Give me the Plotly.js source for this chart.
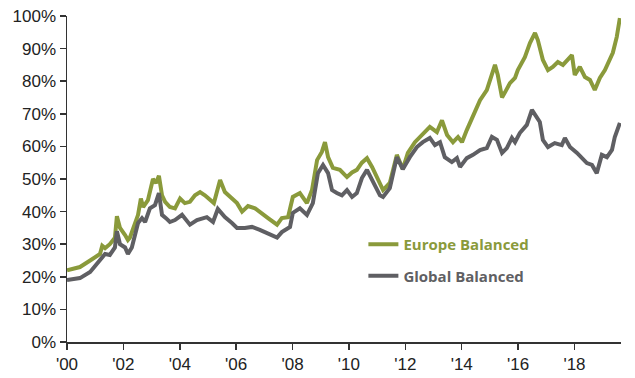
<!DOCTYPE html>
<html>
<head>
<meta charset="utf-8">
<script src="https://cdn.plot.ly/plotly-3.0.1.min.js"></script>
<style>html,body{margin:0;padding:0;background:#fff;}#chart{width:635px;height:378px;}</style>
</head>
<body>
<div id="chart"></div>
<script>
// Europe Balanced (decimal year, cumulative return %)
var europeYears = [2000.0,2000.46,2000.82,2001.17,2001.25,2001.35,2001.52,2001.70,2001.77,2001.88,2002.06,2002.16,2002.23,2002.41,2002.52,2002.62,2002.70,2002.87,2002.94,2003.05,2003.16,2003.26,2003.37,2003.48,2003.65,2003.83,2004.01,2004.18,2004.36,2004.54,2004.72,2004.89,2005.21,2005.43,2005.60,2005.78,2006.03,2006.21,2006.42,2006.67,2006.91,2007.13,2007.45,2007.62,2007.84,2008.01,2008.26,2008.51,2008.69,2008.87,2009.04,2009.15,2009.26,2009.43,2009.68,2009.93,2010.11,2010.28,2010.46,2010.64,2010.82,2010.99,2011.21,2011.45,2011.70,2011.91,2012.09,2012.34,2012.59,2012.87,2013.12,2013.30,2013.48,2013.69,2013.87,2014.01,2014.18,2014.40,2014.65,2014.89,2015.07,2015.18,2015.28,2015.43,2015.53,2015.71,2015.89,2015.99,2016.24,2016.42,2016.60,2016.70,2016.88,2017.06,2017.23,2017.41,2017.59,2017.77,2017.91,2018.01,2018.19,2018.37,2018.55,2018.72,2018.90,2019.08,2019.26,2019.36,2019.50,2019.61];
var europeValues = [22,23,25,27,29.5,28.8,30,32,38.6,35,32.8,31.3,32,36.5,39,44,41.4,43.5,46.6,50,48.8,51,45,43,41.4,41,44,42.6,43,45,46,45,42.6,49.7,46,44.5,42.6,40,41.7,41,39.6,38,36,38,38.3,44.5,45.7,42.6,46.6,55.8,58.3,61.3,56.7,53.4,52.8,50.6,52,52.8,55,56.4,53.7,50.3,46.6,48.8,57.4,53,58,61.3,63.5,66,64.4,68,63.5,61.3,62.9,61.3,65,69,74.2,77.3,82.5,85,81.9,75,76.5,79.4,81,83.4,87.4,91.7,94.8,92.6,86.5,83.4,84.4,85.9,85,86.5,88,81.9,84.4,81.3,80.4,77.3,81,83.4,86.5,88.7,93.6,99.4];

// Global Balanced
var globalYears = [2000.0,2000.46,2000.82,2001.17,2001.35,2001.52,2001.70,2001.77,2001.88,2002.06,2002.16,2002.30,2002.52,2002.66,2002.77,2002.94,2003.12,2003.26,2003.37,2003.51,2003.65,2003.83,2004.08,2004.36,2004.61,2004.96,2005.18,2005.35,2005.60,2005.85,2006.03,2006.31,2006.56,2006.84,2007.13,2007.45,2007.62,2007.91,2008.01,2008.26,2008.51,2008.72,2008.90,2009.08,2009.26,2009.40,2009.57,2009.75,2009.93,2010.11,2010.28,2010.46,2010.64,2010.85,2011.10,2011.21,2011.45,2011.70,2011.91,2012.16,2012.41,2012.62,2012.87,2013.05,2013.23,2013.40,2013.65,2013.83,2013.94,2014.18,2014.40,2014.65,2014.89,2015.07,2015.25,2015.43,2015.60,2015.78,2015.89,2016.06,2016.31,2016.49,2016.67,2016.77,2016.88,2017.06,2017.30,2017.55,2017.66,2017.84,2018.09,2018.26,2018.44,2018.62,2018.79,2018.97,2019.15,2019.33,2019.43,2019.61];
var globalValues = [19,19.6,21.5,25,27,26.7,29,34,30,29,27,29,36.5,38,36.8,41,42,45.7,39,38,36.8,37.4,39,36,37.4,38.3,36.8,40.8,38.3,36.5,35,35,35.3,34.4,33.4,32,33.7,35.3,39.6,41,39,42.6,51.8,54.3,51.8,46.6,45.7,45,46.6,44.5,45.7,50.3,52.8,49,45,44.5,47.2,56.7,53,56.7,59.8,61.3,62.6,60.4,61.3,56.7,55.2,56.4,53.7,56.4,57.4,58.9,59.5,62.9,62,58,59.5,62.6,61.3,64.1,66.6,71.2,69,67.5,62,59.8,61,60.4,62.6,59.8,58,56.4,54.9,54.3,51.8,57.4,56.7,58.9,62.9,67.2];

var xTickVals = [2000,2002,2004,2006,2008,2010,2012,2014,2016,2018];
var xTickText = ["'00","'02","'04","'06","'08","'10","'12","'14","'16","'18"];
var yTickVals = [0,10,20,30,40,50,60,70,80,90,100];
var yTickText = ["0%","10%","20%","30%","40%","50%","60%","70%","80%","90%","100%"];

var seriesNames = ["Europe Balanced","Global Balanced"];
var seriesColors = ["#8a9a3b","#5f5f63"];

var traces = [
  {x: europeYears, y: europeValues, type:'scatter', mode:'lines',
   name:'<b><span style="color:#8a9a3b">'+seriesNames[0]+'</span></b>',
   legendgroup:'a', line:{color:seriesColors[0], width:4}},
  {x: globalYears, y: globalValues, type:'scatter', mode:'lines',
   name:'<b><span style="color:#5f5f63">'+seriesNames[1]+'</span></b>',
   legendgroup:'b', line:{color:seriesColors[1], width:4}}
];

var layout = {
  width:635, height:378,
  margin:{l:67, r:14, t:16, b:36},
  paper_bgcolor:'#fff', plot_bgcolor:'#fff',
  font:{family:'Liberation Sans, Arial, sans-serif', size:16, color:'#222'},
  showlegend:true,
  legend:{x:0.535, y:0.35, xanchor:'left', yanchor:'top', bgcolor:'rgba(0,0,0,0)',
          font:{family:'Open Sans, Noto Sans, sans-serif', size:15}, tracegroupgap:9},
  xaxis:{range:[2000,2019.65], tickvals:xTickVals, ticktext:xTickText,
         showgrid:false, zeroline:false, showline:true, linecolor:'#333', linewidth:1.5,
         ticks:'outside', ticklen:6, tickcolor:'#333', tickwidth:1.5,
         tickfont:{size:17, color:'#222'}},
  yaxis:{range:[0,100], tickvals:yTickVals, ticktext:yTickText,
         showgrid:false, zeroline:false, showline:true, linecolor:'#333', linewidth:1.5,
         ticks:'outside', ticklen:6, tickcolor:'#333', tickwidth:1.5,
         tickfont:{size:17, color:'#222'}}
};

Plotly.newPlot('chart', traces, layout, {displayModeBar:false, staticPlot:true});
</script>
</body>
</html>
